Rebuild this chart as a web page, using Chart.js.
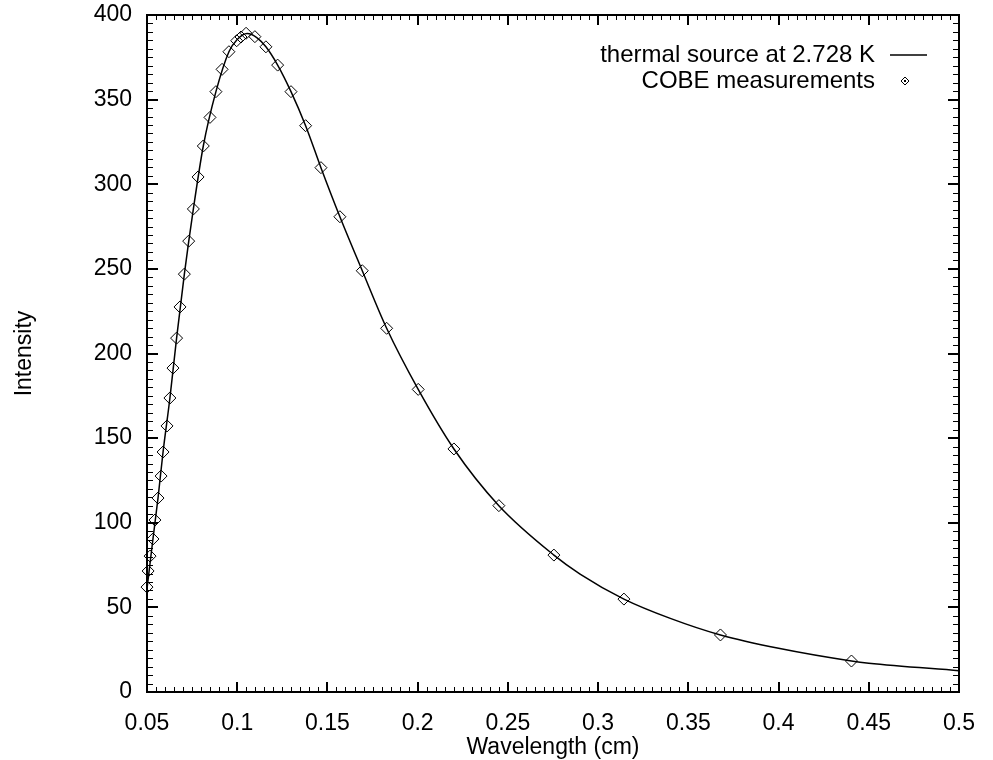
<!DOCTYPE html>
<html>
<head>
<meta charset="utf-8">
<title>COBE spectrum</title>
<script src="https://cdn.jsdelivr.net/npm/chart.js@4.4.1/dist/chart.umd.min.js"></script>
<style>
    html, body { margin: 0; padding: 0; background: #fff; }
    #wrap { width: 993px; height: 760px; }
</style>
</head>
<body>
<div id="wrap"><canvas id="cobeChart" width="993" height="760"></canvas></div>
<script>
// wavelength (cm) / intensity
const cobeWavelength = [
    0.0500, 0.0506, 0.0517, 0.0533, 0.0544, 0.0561, 0.0578, 0.0589, 0.0611, 0.0627,
    0.0644, 0.0664, 0.0683, 0.0707, 0.0731, 0.0757, 0.0783, 0.0812, 0.0849, 0.0882,
    0.0916, 0.0954, 0.0997, 0.1021, 0.1049, 0.1098, 0.1159, 0.1224, 0.1298, 0.1379,
    0.1464, 0.1569, 0.1693, 0.1828, 0.2003, 0.2201, 0.2450, 0.2755, 0.3143, 0.3678,
    0.4404
];
const cobeIntensity = [
    62.0, 71.5, 80.3, 90.4, 101.6, 114.6, 127.6, 141.8, 157.2, 173.7,
    191.4, 209.1, 227.5, 246.9, 266.4, 285.4, 304.3, 322.6, 339.5, 354.7,
    367.9, 378.3, 384.8, 387.0, 389.2, 387.2, 381.2, 370.4, 354.7, 334.6,
    309.8, 280.8, 248.9, 214.9, 178.8, 143.6, 110.1, 80.9, 54.9, 33.7,
    18.3
];

// the smooth thermal curve
const curveWavelength = [
    0.0500, 0.0533, 0.0561, 0.0589, 0.0627, 0.0664, 0.0707, 0.0757, 0.0812, 0.0882,
    0.0954, 0.1000, 0.1055, 0.1110, 0.1159, 0.1224, 0.1298, 0.1379, 0.1464, 0.1569,
    0.1693, 0.1828, 0.2003, 0.2201, 0.2450, 0.2755, 0.2900, 0.3143, 0.3400, 0.3678,
    0.4000, 0.4404, 0.4500, 0.5000
];
const curveIntensity = [
    61.0, 90.4, 114.6, 141.8, 173.7, 209.1, 246.9, 285.4, 322.6, 354.7,
    378.3, 385.5, 389.0, 386.5, 381.2, 370.4, 354.7, 334.6, 309.8, 280.8,
    248.9, 214.9, 178.8, 143.6, 110.1, 80.9, 69.7, 54.9, 43.5, 33.7,
    25.8, 18.3, 17.0, 12.6
];

const xTickValues = [0.05, 0.1, 0.15, 0.2, 0.25, 0.3, 0.35, 0.4, 0.45, 0.5];
const yTickValues = [0, 50, 100, 150, 200, 250, 300, 350, 400];

const lineLabel = 'thermal source at 2.728 K';
const pointLabel = 'COBE measurements';

const FONT = 'Liberation Sans';
const FONT_SIZE = 23;

/* ================================
   FRAME + INWARD TICKS (gnuplot look)
================================ */

const frameTicks = {
    id: 'frameTicks',
    afterDatasetsDraw(chart) {
        const {ctx, chartArea: a, scales: {x, y}} = chart;
        ctx.save();
        ctx.strokeStyle = '#000';

        // minor ticks every 0.005 / 5
        ctx.lineWidth = 1;
        ctx.beginPath();
        for (let i = 0; i <= 90; i++) {
            const px = Math.round(x.getPixelForValue(0.05 + i * 0.005)) + 0.5;
            ctx.moveTo(px, a.bottom); ctx.lineTo(px, a.bottom - 5);
            ctx.moveTo(px, a.top); ctx.lineTo(px, a.top + 5);
        }
        for (let i = 0; i <= 80; i++) {
            const py = Math.round(y.getPixelForValue(i * 5)) + 0.5;
            ctx.moveTo(a.left, py); ctx.lineTo(a.left + 6, py);
            ctx.moveTo(a.right, py); ctx.lineTo(a.right - 6, py);
        }
        ctx.stroke();

        // major ticks
        ctx.lineWidth = 2;
        ctx.beginPath();
        xTickValues.forEach(v => {
            const px = Math.round(x.getPixelForValue(v));
            ctx.moveTo(px, a.bottom); ctx.lineTo(px, a.bottom - 10);
            ctx.moveTo(px, a.top); ctx.lineTo(px, a.top + 10);
        });
        yTickValues.forEach(v => {
            const py = Math.round(y.getPixelForValue(v));
            ctx.moveTo(a.left, py); ctx.lineTo(a.left + 11, py);
            ctx.moveTo(a.right, py); ctx.lineTo(a.right - 11, py);
        });
        ctx.stroke();

        ctx.lineWidth = 2;
        ctx.strokeRect(a.left, a.top, a.right - a.left, a.bottom - a.top);
        ctx.restore();
    }
};

/* ================================
   KEY (text left of sample, like gnuplot)
================================ */

const gnuKey = {
    id: 'gnuKey',
    afterDraw(chart) {
        const {ctx, chartArea: a} = chart;
        const textRight = a.right - 84;
        const row1 = a.top + 40;
        const row2 = a.top + 66;
        ctx.save();
        ctx.font = `24px "${FONT}"`;
        ctx.fillStyle = '#000';
        ctx.textAlign = 'right';
        ctx.textBaseline = 'middle';
        ctx.fillText(chart.data.datasets[0].label, textRight, row1);
        ctx.fillText(chart.data.datasets[1].label, textRight, row2);

        ctx.strokeStyle = '#000';
        ctx.lineWidth = 1.5;
        ctx.beginPath();
        ctx.moveTo(a.right - 69, row1);
        ctx.lineTo(a.right - 32, row1);
        ctx.stroke();

        const mx = a.right - 54;
        ctx.lineWidth = 1;
        ctx.beginPath();
        ctx.moveTo(mx, row2 - 4);
        ctx.lineTo(mx + 4, row2);
        ctx.lineTo(mx, row2 + 4);
        ctx.lineTo(mx - 4, row2);
        ctx.closePath();
        ctx.stroke();
        ctx.fillRect(mx - 1, row2 - 1, 2, 2);
        ctx.restore();
    }
};

new Chart(document.getElementById('cobeChart'), {
    type: 'scatter',
    data: {
        datasets: [
            {
                label: lineLabel,
                data: curveWavelength.map((w, i) => ({x: w, y: curveIntensity[i]})),
                showLine: true,
                borderColor: '#000',
                borderWidth: 1.5,
                pointRadius: 0,
                cubicInterpolationMode: 'monotone',
                fill: false
            },
            {
                label: pointLabel,
                data: cobeWavelength.map((w, i) => ({x: w, y: cobeIntensity[i]})),
                showLine: false,
                pointStyle: 'rectRot',
                pointRadius: 6,
                pointBorderWidth: 1,
                borderColor: '#000',
                backgroundColor: 'rgba(0,0,0,0)',
                clip: false
            }
        ]
    },
    options: {
        responsive: false,
        animation: false,
        layout: {padding: {top: 15, right: 34, left: 0, bottom: 0}},
        plugins: {legend: {display: false}, tooltip: {enabled: false}},
        scales: {
            x: {
                type: 'linear',
                min: 0.05,
                max: 0.5,
                afterBuildTicks: s => { s.ticks = xTickValues.map(v => ({value: v})); },
                afterFit: s => { s.height = 68; },
                grid: {display: false, drawTicks: false},
                border: {display: false},
                ticks: {
                    padding: 18,
                    color: '#000',
                    font: {family: FONT, size: FONT_SIZE},
                    callback: v => String(parseFloat(v.toFixed(3)))
                },
                title: {
                    display: true,
                    text: 'Wavelength (cm)',
                    color: '#000',
                    font: {family: FONT, size: FONT_SIZE},
                    padding: {top: 0, bottom: -1}
                }
            },
            y: {
                type: 'linear',
                min: 0,
                max: 400,
                afterBuildTicks: s => { s.ticks = yTickValues.map(v => ({value: v})); },
                afterFit: s => { s.width = 147; s.paddingTop = 0; s.paddingBottom = 0; },
                grid: {display: false, drawTicks: false},
                border: {display: false},
                ticks: {
                    padding: 15,
                    color: '#000',
                    font: {family: FONT, size: FONT_SIZE}
                },
                title: {
                    display: true,
                    text: 'Intensity',
                    color: '#000',
                    font: {family: FONT, size: FONT_SIZE},
                    padding: {top: 11, bottom: 0}
                }
            }
        }
    },
    plugins: [frameTicks, gnuKey]
});
</script>
</body>
</html>
